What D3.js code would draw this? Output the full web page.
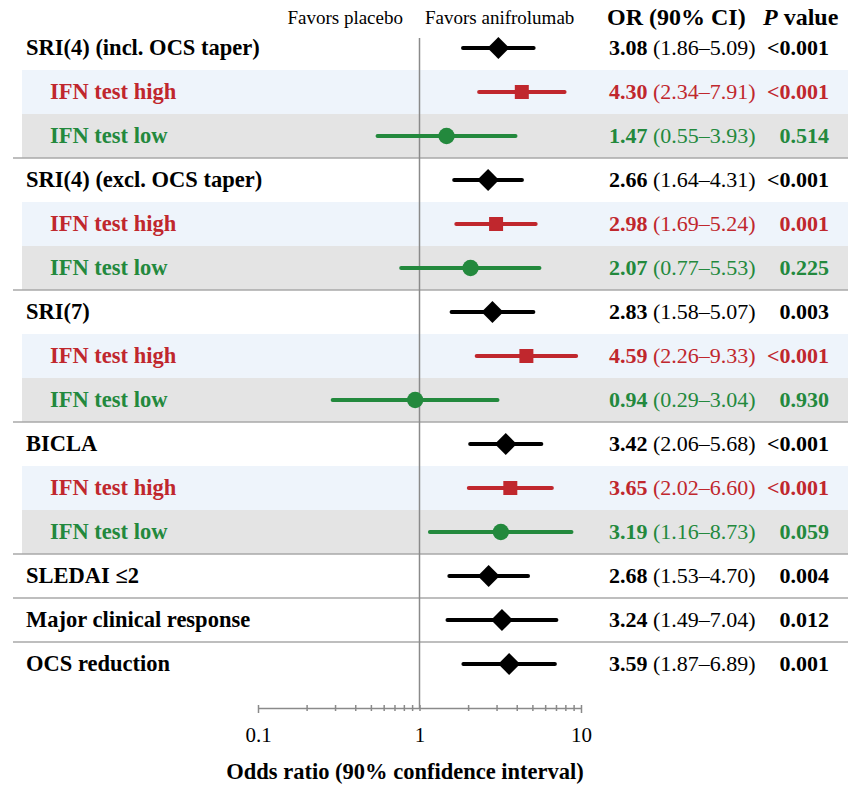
<!DOCTYPE html>
<html>
<head>
<meta charset="utf-8">
<script src="https://d3js.org/d3.v7.min.js"></script>
<style>
  body { margin: 0; background: #fff; }
  text { font-family: "Liberation Serif", "Times New Roman", serif; }
</style>
</head>
<body>
<div id="chart"></div>
<script>
// rows, top to bottom
const labels = [
  "SRI(4) (incl. OCS taper)", "IFN test high", "IFN test low",
  "SRI(4) (excl. OCS taper)", "IFN test high", "IFN test low",
  "SRI(7)", "IFN test high", "IFN test low",
  "BICLA", "IFN test high", "IFN test low",
  "SLEDAI \u22642", "Major clinical response", "OCS reduction"
];
const rowTypes = ["all", "high", "low", "all", "high", "low", "all", "high", "low",
  "all", "high", "low", "all", "all", "all"];
const orValues = [3.08, 4.30, 1.47, 2.66, 2.98, 2.07, 2.83, 4.59, 0.94, 3.42, 3.65, 3.19, 2.68, 3.24, 3.59];
const ciLow = [1.86, 2.34, 0.55, 1.64, 1.69, 0.77, 1.58, 2.26, 0.29, 2.06, 2.02, 1.16, 1.53, 1.49, 1.87];
const ciHigh = [5.09, 7.91, 3.93, 4.31, 5.24, 5.53, 5.07, 9.33, 3.04, 5.68, 6.60, 8.73, 4.70, 7.04, 6.89];
const pValues = ["<0.001", "<0.001", "0.514", "<0.001", "0.001", "0.225", "0.003", "<0.001", "0.930",
  "<0.001", "<0.001", "0.059", "0.004", "0.012", "0.001"];
// separators drawn below these rows
const separatorAfter = [2, 5, 8, 11, 12, 13];
const tickLabels = [0.1, 1, 10];

const data = labels.map((d, i) => ({
  i: i, label: d, type: rowTypes[i], or: orValues[i], lo: ciLow[i], hi: ciHigh[i], p: pValues[i]
}));

const width = 859, height = 786;
const color = {all: "#000000", high: "#c0272d", low: "#23893d"};
const bandFill = {high: "#eef4fb", low: "#e4e4e4"};

const svg = d3.select("#chart")
  .append("svg")
    .attr("width", width)
    .attr("height", height);

const x = d3.scaleLog()
  .domain([0.1, 10])
  .range([258, 581]);

const y = d3.scaleBand()
  .domain(d3.range(labels.length))
  .range([26, 26 + 44 * labels.length]);

const mid = (i) => y(i) + y.bandwidth() / 2;

// background bands for subgroups
svg.selectAll("rect.band")
  .data(data.filter(d => d.type !== "all"))
  .join("rect")
    .attr("class", "band")
    .attr("x", 22)
    .attr("width", 826)
    .attr("y", d => y(d.i))
    .attr("height", y.bandwidth())
    .attr("fill", d => bandFill[d.type]);

// separators
svg.selectAll("line.sep")
  .data(separatorAfter)
  .join("line")
    .attr("class", "sep")
    .attr("x1", 13)
    .attr("x2", 848)
    .attr("y1", d => y(d) + y.bandwidth())
    .attr("y2", d => y(d) + y.bandwidth())
    .attr("stroke", "#a8a8a8")
    .attr("stroke-width", 1.5);

// axis
const axisY = 708;
const minorTicks = [];
[0.1, 1].forEach(dec => d3.range(1, 10).forEach(k => minorTicks.push(dec * k)));
minorTicks.push(10);

const axis = svg.append("g")
  .attr("transform", `translate(0, ${axisY})`)
  .call(d3.axisBottom(x)
    .tickValues(minorTicks)
    .tickSizeOuter(0)
    .tickFormat(d => tickLabels.includes(d) ? d3.format("~g")(d) : ""));

axis.select(".domain").attr("stroke", "#8a8a8a").attr("stroke-width", 1.5);
axis.selectAll(".tick line")
  .attr("stroke", "#8a8a8a")
  .attr("stroke-width", 1.5)
  .attr("y1", -3)
  .attr("y2", d => (d === 0.1 || d === 10) ? 5 : 3);
axis.selectAll(".tick text")
  .attr("y", 34)
  .attr("dy", 0)
  .style("font-family", "Liberation Serif")
  .style("font-size", "21px")
  .attr("fill", "#000");

// reference line at OR = 1
svg.append("line")
  .attr("x1", x(1)).attr("x2", x(1))
  .attr("y1", 38).attr("y2", axisY)
  .attr("stroke", "#8a8a8a")
  .attr("stroke-width", 1.5);

// axis title
svg.append("text")
  .attr("x", 405)
  .attr("y", 779)
  .attr("text-anchor", "middle")
  .style("font-size", "22.5px")
  .style("font-weight", "bold")
  .text("Odds ratio (90% confidence interval)");

// header
svg.append("text")
  .attr("x", 403).attr("y", 24)
  .attr("text-anchor", "end")
  .style("font-size", "19px")
  .text("Favors placebo");
svg.append("text")
  .attr("x", 425).attr("y", 24)
  .style("font-size", "19px")
  .text("Favors anifrolumab");
svg.append("text")
  .attr("x", 607).attr("y", 25)
  .style("font-size", "24px")
  .style("font-weight", "bold")
  .text("OR (90% CI)");
const pHead = svg.append("text")
  .attr("x", 763).attr("y", 25)
  .style("font-size", "24px")
  .style("font-weight", "bold");
pHead.append("tspan").style("font-style", "italic").text("P");
pHead.append("tspan").text(" value");

// row labels
svg.selectAll("text.label")
  .data(data)
  .join("text")
    .attr("class", "label")
    .attr("x", d => d.type === "all" ? 26 : 50)
    .attr("y", d => mid(d.i) + 7)
    .style("font-size", "22.5px")
    .style("font-weight", "bold")
    .attr("fill", d => color[d.type])
    .text(d => d.label);

// CI lines
svg.selectAll("line.ci")
  .data(data)
  .join("line")
    .attr("class", "ci")
    .attr("x1", d => x(d.lo))
    .attr("x2", d => x(d.hi))
    .attr("y1", d => mid(d.i))
    .attr("y2", d => mid(d.i))
    .attr("stroke", d => color[d.type])
    .attr("stroke-width", 4)
    .attr("stroke-linecap", "round");

// point estimates
const symbolFor = {
  all: d3.symbol(d3.symbolSquare, 240),
  high: d3.symbol(d3.symbolSquare, 196),
  low: d3.symbol(d3.symbolCircle, 210)
};
svg.selectAll("path.pt")
  .data(data)
  .join("path")
    .attr("class", "pt")
    .attr("d", d => symbolFor[d.type]())
    .attr("transform", d => `translate(${x(d.or)}, ${mid(d.i)})` + (d.type === "all" ? " rotate(45)" : ""))
    .attr("fill", d => color[d.type]);

// OR text
const orText = svg.selectAll("text.or")
  .data(data)
  .join("text")
    .attr("class", "or")
    .attr("x", 609)
    .attr("y", d => mid(d.i) + 7)
    .style("font-size", "22px")
    .attr("fill", d => color[d.type]);
orText.append("tspan")
  .style("font-weight", "bold")
  .text(d => d3.format(".2f")(d.or));
orText.append("tspan")
  .text(d => ` (${d3.format(".2f")(d.lo)}\u2013${d3.format(".2f")(d.hi)})`);

// p values
svg.selectAll("text.p")
  .data(data)
  .join("text")
    .attr("class", "p")
    .attr("x", 829)
    .attr("y", d => mid(d.i) + 7)
    .attr("text-anchor", "end")
    .style("font-size", "22px")
    .style("font-weight", "bold")
    .attr("fill", d => color[d.type])
    .text(d => d.p);
</script>
</body>
</html>
